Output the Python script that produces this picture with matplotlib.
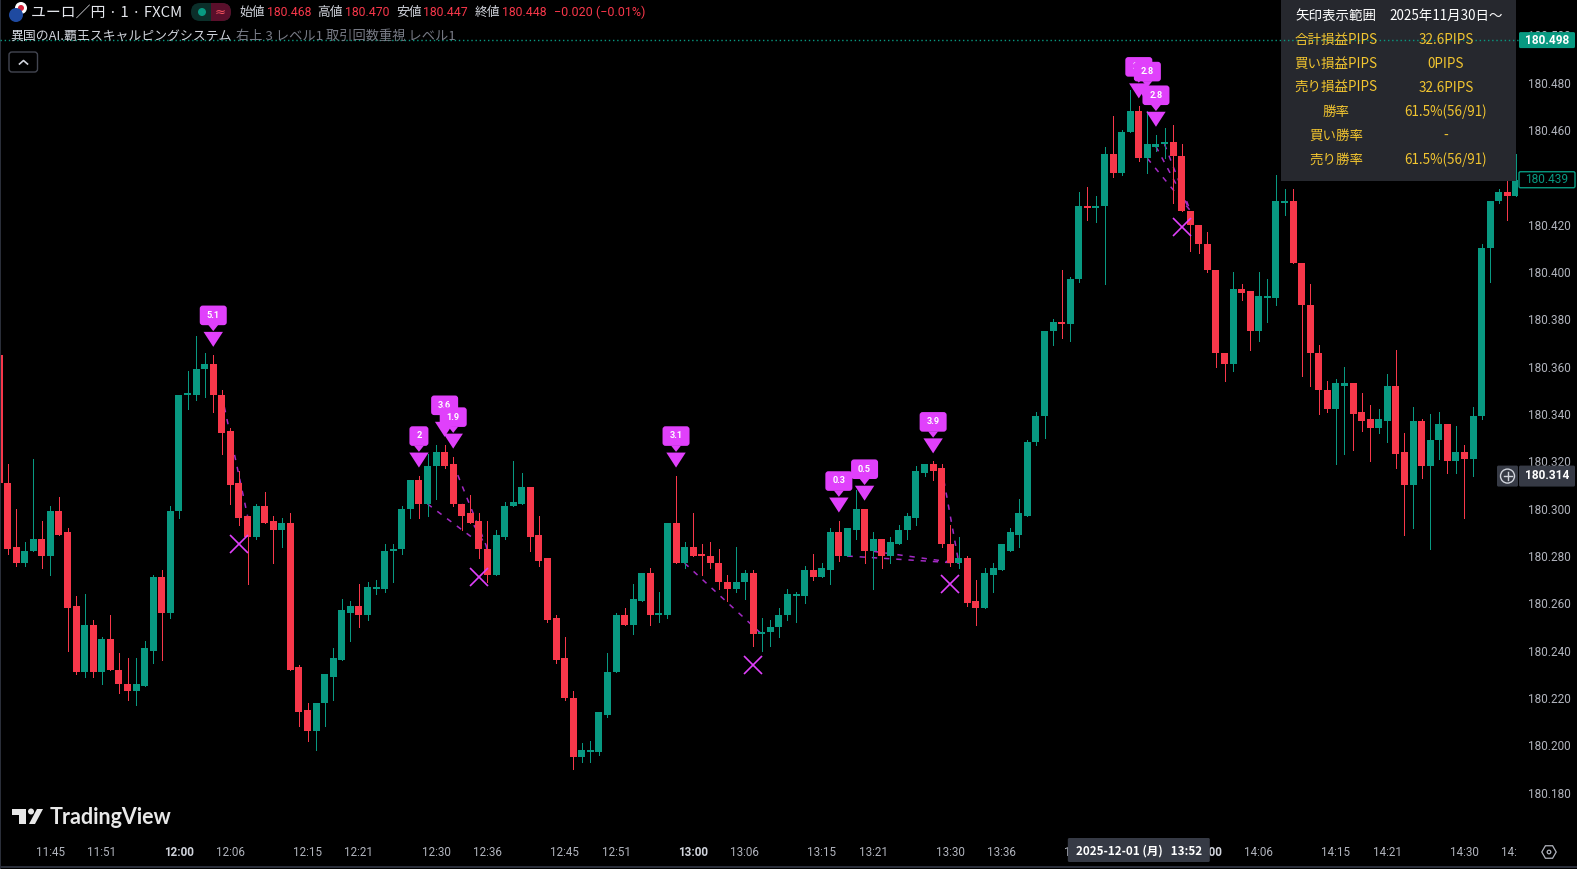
import matplotlib
matplotlib.use("Agg")
import matplotlib.pyplot as plt
import numpy as np
from matplotlib.patches import Circle, FancyBboxPatch, Polygon, Rectangle, RegularPolygon
from matplotlib.transforms import ScaledTranslation

plt.rcParams['font.family'] = ['Noto Sans CJK JP', 'DejaVu Sans']

# prices as thousandths above 180 (365 -> 180.365), one row = ten 1 minute bars
opens = [365, 311, 284, 277, 282, 287, 280, 299, 290, 259,
         231, 251, 231, 245, 232, 226, 223, 225, 240, 271,
         256, 299, 348, 348, 359, 361, 348, 333, 311, 297,
         288, 301, 295, 291, 294, 233, 215, 206, 218, 229,
         236, 256, 259, 255, 266, 266, 282, 283, 300, 312,
         302, 318, 324, 319, 302, 298, 295, 283, 272, 288,
         301, 302, 309, 289, 279, 254, 237, 220, 195, 197,
         197, 213, 231, 255, 251, 261, 273, 255, 255, 294,
         277, 284, 281, 280, 277, 269, 266, 269, 273, 247,
         248, 250, 255, 263, 263, 274, 271, 274, 290, 280,
         291, 300, 282, 287, 280, 285, 291, 296, 315, 319,
         317, 285, 277, 279, 261, 258, 272, 274, 282, 289,
         297, 328, 339, 375, 379, 378, 397, 428, 427, 428,
         450, 442, 459, 468, 448, 453, 454, 455, 449, 426,
         420, 412, 401, 366, 361, 393, 392, 375, 389, 389,
         429, 430, 404, 386, 366, 350, 342, 352, 353, 341,
         338, 334, 337, 352, 324, 310, 337, 318, 329, 336,
         320, 324, 321, 339, 410, 430, 434, 432]
closes = [311, 283, 277, 282, 287, 280, 299, 289, 258, 231,
          251, 231, 245, 232, 226, 223, 226, 241, 271, 256,
          299, 348, 349, 359, 361, 348, 332, 310, 296, 288,
          301, 294, 291, 294, 232, 214, 206, 218, 230, 237,
          257, 259, 255, 267, 267, 282, 283, 300, 312, 302,
          318, 324, 318, 302, 297, 294, 283, 272, 289, 301,
          303, 309, 288, 278, 253, 236, 220, 195, 198, 198,
          214, 231, 255, 251, 262, 273, 255, 256, 294, 277,
          284, 280, 280, 277, 269, 266, 269, 273, 247, 248,
          250, 255, 264, 264, 274, 271, 275, 290, 280, 292,
          300, 282, 287, 280, 286, 291, 297, 316, 319, 316,
          285, 277, 279, 260, 258, 273, 275, 285, 290, 298,
          328, 339, 375, 379, 378, 397, 428, 427, 428, 450,
          442, 459, 468, 448, 454, 454, 455, 449, 426, 420,
          412, 401, 366, 361, 393, 391, 375, 390, 390, 430,
          430, 404, 386, 366, 350, 342, 353, 353, 340, 337,
          334, 338, 352, 323, 310, 337, 318, 329, 336, 320,
          324, 321, 339, 410, 430, 434, 432, 439]
highs = [365, 319, 300, 286, 321, 295, 301, 305, 292, 263,
         264, 253, 246, 255, 239, 237, 237, 244, 272, 274,
         301, 348, 358, 373, 366, 365, 350, 334, 316, 297,
         302, 307, 297, 296, 298, 234, 218, 218, 230, 241,
         262, 261, 268, 269, 270, 285, 285, 301, 312, 314,
         323, 327, 327, 322, 302, 306, 298, 295, 291, 303,
         320, 315, 309, 297, 279, 255, 246, 223, 201, 202,
         214, 239, 256, 258, 268, 273, 275, 265, 294, 314,
         286, 298, 285, 286, 283, 272, 284, 274, 274, 254,
         253, 258, 266, 265, 276, 281, 277, 292, 295, 292,
         308, 300, 290, 287, 288, 293, 298, 318, 319, 320,
         319, 293, 288, 280, 270, 275, 277, 285, 292, 304,
         329, 341, 375, 380, 401, 398, 434, 436, 432, 453,
         466, 460, 477, 470, 468, 458, 461, 462, 454, 426,
         420, 417, 401, 366, 400, 395, 392, 400, 397, 441,
         435, 435, 404, 395, 369, 354, 355, 360, 353, 349,
         344, 342, 357, 367, 332, 343, 338, 340, 341, 336,
         335, 327, 343, 412, 430, 435, 439, 450]
lows = [311, 281, 276, 276, 282, 275, 272, 289, 240, 230,
        229, 229, 226, 232, 222, 219, 217, 225, 235, 236,
        254, 296, 342, 346, 347, 341, 323, 302, 293, 268,
        287, 294, 277, 284, 232, 208, 202, 198, 208, 219,
        236, 244, 250, 253, 264, 265, 269, 281, 296, 296,
        297, 304, 317, 301, 291, 294, 279, 269, 272, 287,
        301, 302, 282, 276, 252, 235, 219, 190, 193, 193,
        196, 212, 231, 251, 247, 261, 251, 252, 254, 277,
        275, 280, 272, 275, 266, 261, 265, 262, 242, 240,
        242, 246, 253, 252, 260, 270, 271, 268, 278, 280,
        287, 277, 266, 275, 277, 285, 287, 293, 314, 312,
        284, 276, 275, 259, 251, 258, 265, 274, 282, 284,
        297, 327, 330, 369, 372, 371, 396, 422, 421, 395,
        440, 441, 459, 447, 442, 451, 448, 429, 426, 409,
        408, 400, 360, 354, 358, 388, 367, 371, 379, 386,
        424, 404, 356, 352, 340, 341, 319, 323, 325, 333,
        320, 332, 328, 317, 289, 292, 313, 283, 321, 315,
        315, 296, 314, 338, 396, 429, 422, 432]

# sell signals: bar of the arrow, bar the dashed line ends on, balloon text
signal_bars = [25, 49, 52, 53, 79, 98, 101, 109, 133, 134, 135]
signal_ends = [29, 57, 57, 57, 89, 112, 112, 112, 139, 139, 139]
signal_text = ['5.1', '2', '3.6', '1.9', '3.1', '0.3', '0.5', '3.9', '2.1', '2.8', '2.8']

exit_bars = [28, 56, 88, 111, 138]
exit_prices = [285, 271, 234, 268, 419]

time_bars = [6, 12, 21, 27, 36, 42, 51, 57, 66, 72, 81, 87, 96, 102, 111, 117, 126, 132, 141, 147, 156, 162, 171, 177]
time_labels = ['11:45', '11:51', '12:00', '12:06', '12:15', '12:21', '12:30', '12:36', '12:45', '12:51',
               '13:00', '13:06', '13:15', '13:21', '13:30', '13:36', '13:45', '13:51', '14:00', '14:06',
               '14:15', '14:21', '14:30', '14:36']
price_ticks = [180, 200, 220, 240, 260, 280, 300, 320, 340, 360, 380, 400, 420, 440, 460, 480, 500]

last_price = 498
close_price = 439
cross_price = 314
cross_bar = 133

panel_rows = [('合計損益PIPS', '32.6PIPS'), ('買い損益PIPS', '0PIPS'), ('売り損益PIPS', '32.6PIPS'),
              ('勝率', '61.5%(56/91)'), ('買い勝率', '-'), ('売り勝率', '61.5%(56/91)')]

GREEN = '#089981'
RED = '#f7374a'
PINK = '#e040fb'
LINE = '#a32ac4'
AXIS_TXT = '#b2b5be'
GOLD = '#f2c530'
BOX = '#363a45'

W, H = 1577, 869
BAR_PX = 8.57          # pixels per bar
TICK_PX = 2.3667       # pixels per 0.001
AX_R, AX_B = 1518, 842

o = 180 + np.array(opens) / 1000
c = 180 + np.array(closes) / 1000
hi = 180 + np.array(highs) / 1000
lo = 180 + np.array(lows) / 1000
x = np.arange(len(o))
col = [GREEN if b >= a else RED for a, b in zip(o, c)]

fig = plt.figure(figsize=(W / 100, H / 100), dpi=100, facecolor='black')
ax = fig.add_axes([0, (H - AX_B) / H, AX_R / W, AX_B / H], facecolor='black')
ax.set_xlim(1 / BAR_PX, (AX_R + 1) / BAR_PX)
ax.set_ylim(180 + (480 - (AX_B - 82.7) / TICK_PX) / 1000, 180 + (480 + 82.7 / TICK_PX) / 1000)
for s in ax.spines.values():
    s.set_visible(False)

# dashed trade lines go under the candles
for a, b in zip(signal_bars, signal_ends):
    ax.plot([a + 1, b], [o[a + 1], o[b]], color=LINE, lw=1.1, ls=(0, (3.5, 4.5)), zorder=1)

ax.vlines(x, lo, hi, colors=col, lw=0.5, zorder=2, antialiased=False)
ax.bar(x, np.maximum(np.abs(c - o), 0.0006), bottom=np.minimum(o, c), width=7 / BAR_PX, color=col,
       zorder=3, antialiased=False)

ax.plot(exit_bars, 180 + np.array(exit_prices) / 1000, ls='none', marker='x', ms=12.5, mew=1.2, color=PINK, zorder=4)

# arrow + balloon, shapes in pixels measured from the high of the bar
for n, (b, label) in enumerate(zip(signal_bars, signal_text)):
    trans = ScaledTranslation(b, hi[b], ax.transData)
    z = 5 + n * 0.1
    bw = 19 if len(label) == 1 else 27
    ax.add_patch(Polygon([(0, 8), (-9.7, 23), (9.7, 23)], closed=True, transform=trans, color=PINK, lw=0, zorder=z))
    ax.add_patch(Polygon([(0, 23.7), (-5, 30), (5, 30)], closed=True, transform=trans, color=PINK, lw=0, zorder=z))
    ax.add_patch(FancyBboxPatch((-bw / 2, 29.7), bw, 19.6, boxstyle='round,pad=0,rounding_size=3', transform=trans,
                                color=PINK, lw=0, zorder=z))
    ax.text(0, 39.6, label, transform=trans, ha='center', va='center', color='white', fontsize=6.6,
            fontweight='bold', family='Roboto', zorder=z + 0.05)

ax.yaxis.tick_right()
ax.set_yticks(180 + np.array(price_ticks) / 1000)
ax.set_yticklabels(['%.3f' % (180 + p / 1000) for p in price_ticks], family='Roboto', fontsize=8.5, color=AXIS_TXT)
ax.set_xticks(time_bars)
ax.set_xticklabels(time_labels, family='Roboto', fontsize=8.4, color=AXIS_TXT)
ax.tick_params(axis='y', length=0, pad=7)
ax.tick_params(axis='x', length=0, pad=3)
for lab in ax.get_xticklabels():
    if lab.get_text().endswith(':00'):
        lab.set_fontweight('bold')
        lab.set_color('#d1d4dc')

# everything that is not chart data: drawn on a pixel overlay
ov = fig.add_axes([0, 0, 1, 1], zorder=10)
ov.set_xlim(0, W)
ov.set_ylim(H, 0)
ov.axis('off')


def txt(px, py, s, color='#d1d4dc', size=9.4, ha='left', z=5, **kw):
    ov.text(px, py, s, color=color, fontsize=size, ha=ha, va='center', zorder=z, **kw)


ov.add_patch(Rectangle((0, 0), 1, H, color='#2a2e39', lw=0))
ov.add_patch(Rectangle((0, 866), W, 1.5, color='#2a2e39', lw=0))
ov.add_patch(Rectangle((1516.5, 840), W - 1516.5, 25, color='black', lw=0, zorder=1))  # cuts the last time label

# stats panel
ov.add_patch(Rectangle((1281, 0), 235, 181, color='#26282e', lw=0, zorder=1))
ov.plot([0, 1], [180 + last_price / 1000] * 2, transform=ax.get_yaxis_transform(), color=GREEN, lw=1,
        ls=(0, (1, 2)), zorder=2)
txt(1336, 16, '矢印表示範囲', color='white', ha='center', size=9.7)
txt(1446, 16, '2025年11月30日～', color='white', ha='center', size=9.7)
for n, (left, right) in enumerate(panel_rows):
    py = 40 + n * 24
    txt(1336, py, left, color=GOLD, ha='center', size=9.7)
    txt(1446, py, right, color=GOLD, ha='center', size=9.7)

# price boxes
price_y = 82.7 + (480 - last_price) * TICK_PX
ov.add_patch(FancyBboxPatch((1519, price_y - 8), 56, 16, boxstyle='round,pad=0,rounding_size=1.5', color=GREEN, lw=0, zorder=3))
txt(1547, price_y, '180.498', color='white', size=8.6, ha='center', family='Roboto', fontweight='bold')
price_y = 82.7 + (480 - close_price) * TICK_PX
ov.add_patch(FancyBboxPatch((1519, price_y - 8), 56, 16, boxstyle='round,pad=0,rounding_size=1.5', fc='black', ec=GREEN, lw=1, zorder=3))
txt(1547, price_y, '180.439', color=GREEN, size=8.6, ha='center', family='Roboto')
price_y = 82.7 + (480 - cross_price) * TICK_PX
ov.add_patch(FancyBboxPatch((1519, price_y - 10), 56, 21, boxstyle='round,pad=0,rounding_size=1.5', color=BOX, lw=0, zorder=3))
ov.add_patch(FancyBboxPatch((1497, price_y - 10), 21, 21, boxstyle='round,pad=0,rounding_size=1.5', color=BOX, lw=0, zorder=3))
ov.add_patch(Circle((1507.5, price_y + 0.5), 7, fc='none', ec='#d1d4dc', lw=1, zorder=4))
ov.plot([1503.5, 1511.5], [price_y + 0.5] * 2, color='#d1d4dc', lw=1, zorder=4)
ov.plot([1507.5, 1507.5], [price_y - 3.5, price_y + 4.5], color='#d1d4dc', lw=1, zorder=4)
txt(1547, price_y, '180.314', color='white', size=8.6, ha='center', family='Roboto', fontweight='bold')

# crosshair date
cross_x = (cross_bar * BAR_PX) - 1
ov.add_patch(FancyBboxPatch((cross_x - 71, 838), 142, 24, boxstyle='round,pad=0,rounding_size=1.5', color=BOX, lw=0, zorder=3))
txt(cross_x, 851, '2025-12-01 (月)   13:52', color='white', size=8.4, ha='center', fontweight='bold')

# settings icon
ov.add_patch(RegularPolygon((1549, 852), 6, radius=7.2, orientation=np.pi / 6, fc='none', ec=AXIS_TXT, lw=0.9))
ov.add_patch(Circle((1549, 852), 1.8, fc='none', ec=AXIS_TXT, lw=0.9))

# header
ov.add_patch(Circle((16, 15), 7, color='#1f4aa0', lw=0, zorder=3))
ov.add_patch(Circle((21, 8), 6, color='white', lw=0, zorder=2))
ov.add_patch(Circle((21, 8), 3, color='#d8253c', lw=0, zorder=2.5))
txt(31, 13, 'ユーロ／円 · 1 · FXCM', size=10.7, color='#e6e8ee')
ov.add_patch(FancyBboxPatch((191, 3), 40, 18, boxstyle='round,pad=0,rounding_size=9', color='#0b2f2a', lw=0, zorder=1))
ov.add_patch(FancyBboxPatch((211, 3), 20, 18, boxstyle='round,pad=0,rounding_size=9', color='#5a0f2b', lw=0, zorder=2))
ov.add_patch(Rectangle((211, 3), 9, 18, color='#5a0f2b', lw=0, zorder=2))
ov.add_patch(Circle((202, 12), 4, color=GREEN, lw=0, zorder=3))
txt(220, 12, '≈', color='#f7525f', size=9.5, ha='center', family='DejaVu Sans')
for px, name in zip([239, 317, 396, 475], ['始値', '高値', '安値', '終値']):
    txt(px, 12.5, name, size=9.2)
for px, val in zip([267, 345, 423, 502], ['180.468', '180.470', '180.447', '180.448']):
    txt(px, 12.5, val, color=RED, size=8.8, family='Roboto')
txt(554, 12.5, '−0.020 (−0.01%)', color=RED, size=9, family='Roboto')
txt(10, 36, '異国のAI.覇王スキャルピングシステム', size=9.3)
txt(236, 36, '右上 3 レベル1 取引回数重視 レベル1', color='#787b86', size=9.5)
ov.add_patch(FancyBboxPatch((9, 52), 28.5, 20, boxstyle='round,pad=0,rounding_size=3', fc='black', ec='#434651', lw=1))
ov.plot([19.5, 23.5, 27.5], [64, 60.5, 64], color='#d1d4dc', lw=1.2)

# TradingView logo
ov.add_patch(Polygon([(12, 809), (26, 809), (26, 824), (19, 824), (19, 815), (12, 815)], closed=True, color='#e8e8e8', lw=0))
ov.add_patch(Circle((31, 811.5), 3, color='#e8e8e8', lw=0))
ov.add_patch(Polygon([(37, 809), (43, 809), (35, 824), (29, 824)], closed=True, color='#e8e8e8', lw=0))
txt(50, 817, 'TradingView', color='#e8e8e8', size=15.5, family='Lato', fontweight='bold')

fig.savefig('out.png', dpi=100, facecolor='black')
